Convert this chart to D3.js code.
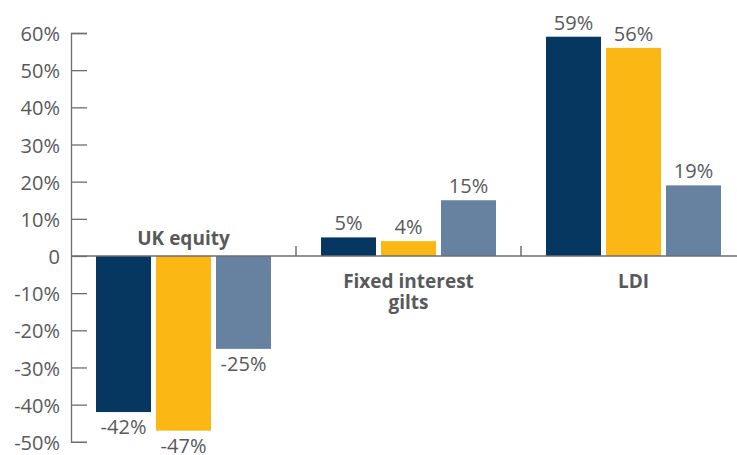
<!DOCTYPE html>
<html><head><meta charset="utf-8">
<script src="https://cdn.jsdelivr.net/npm/d3@7"></script>
<style>body{margin:0;background:#fff}svg{display:block}text{font-family:"Open Sans",sans-serif;fill:#58595b}</style>
</head><body><svg id="c" width="737" height="455"></svg>
<script>
const categories = ["UK equity", "Fixed interest gilts", "LDI"];
const categoryLines = [["UK equity"], ["Fixed interest", "gilts"], ["LDI"]];
const seriesNames = ["Series 1", "Series 2", "Series 3"];
const seriesValues = [
  [-42, 5, 59],
  [-47, 4, 56],
  [-25, 15, 19]
];
const colors = ["#053761", "#fbb814", "#6781a1"];
const yTicks = [60, 50, 40, 30, 20, 10, 0, -10, -20, -30, -40, -50];

const svg = d3.select("#c");
const left = 71, right = 746;
const y = d3.scaleLinear().domain([-50, 60]).range([441.8, 33]);
const x0 = d3.scaleBand().domain(categories).range([left, right]).paddingInner(0).paddingOuter(0);
const x1 = d3.scaleBand().domain(seriesNames).range([25, 200]).paddingInner(5/60).paddingOuter(0);

// y axis
const yAxis = d3.axisLeft(y).tickValues(yTicks).tickSizeInner(-16).tickSizeOuter(-16).tickPadding(11)
  .tickFormat(d => d === 0 ? "0" : d + "%");
const ga = svg.append("g").attr("transform", `translate(${left},0)`).call(yAxis);
ga.selectAll("path, line").attr("stroke", "#6d6e71").attr("stroke-width", 1.3);
ga.selectAll("text").style("font-size", "20px").style("font-family", '"Open Sans",sans-serif')
  .attr("fill", "#58595b").attr("dy", "0.38em");

// bars
categories.forEach((c, ci) => {
  seriesNames.forEach((s, si) => {
    const v = seriesValues[si][ci];
    const bx = x0(c) + x1(s);
    svg.append("rect").attr("x", bx).attr("width", x1.bandwidth())
      .attr("y", y(Math.max(0, v))).attr("height", Math.abs(y(v) - y(0)))
      .attr("fill", colors[si]);
    svg.append("text").attr("x", bx + x1.bandwidth() / 2)
      .attr("y", v >= 0 ? y(v) - 7 : y(v) + 22)
      .attr("text-anchor", "middle").style("font-size", "20px").text(v + "%");
  });
});

// zero line
svg.append("line").attr("x1", left).attr("x2", 737).attr("y1", y(0)).attr("y2", y(0))
  .attr("stroke", "#6d6e71").attr("stroke-width", 1.5);
// category separators
categories.slice(1).forEach(c => {
  svg.append("line").attr("x1", x0(c)).attr("x2", x0(c)).attr("y1", y(0) - 10).attr("y2", y(0))
    .attr("stroke", "#6d6e71").attr("stroke-width", 1.5);
});

// category labels
categories.forEach((c, ci) => {
  const neg = seriesValues.every(sv => sv[ci] < 0);
  const cx = x0(c) + x0.bandwidth() / 2;
  const lines = categoryLines[ci];
  const base = neg ? y(0) - 11 : y(0) + 32;
  lines.forEach((l, li) => {
    svg.append("text").attr("x", cx).attr("y", base + li * 21).attr("text-anchor", "middle")
      .style("font-size", "19px").style("font-weight", "bold").text(l);
  });
});
</script></body></html>
